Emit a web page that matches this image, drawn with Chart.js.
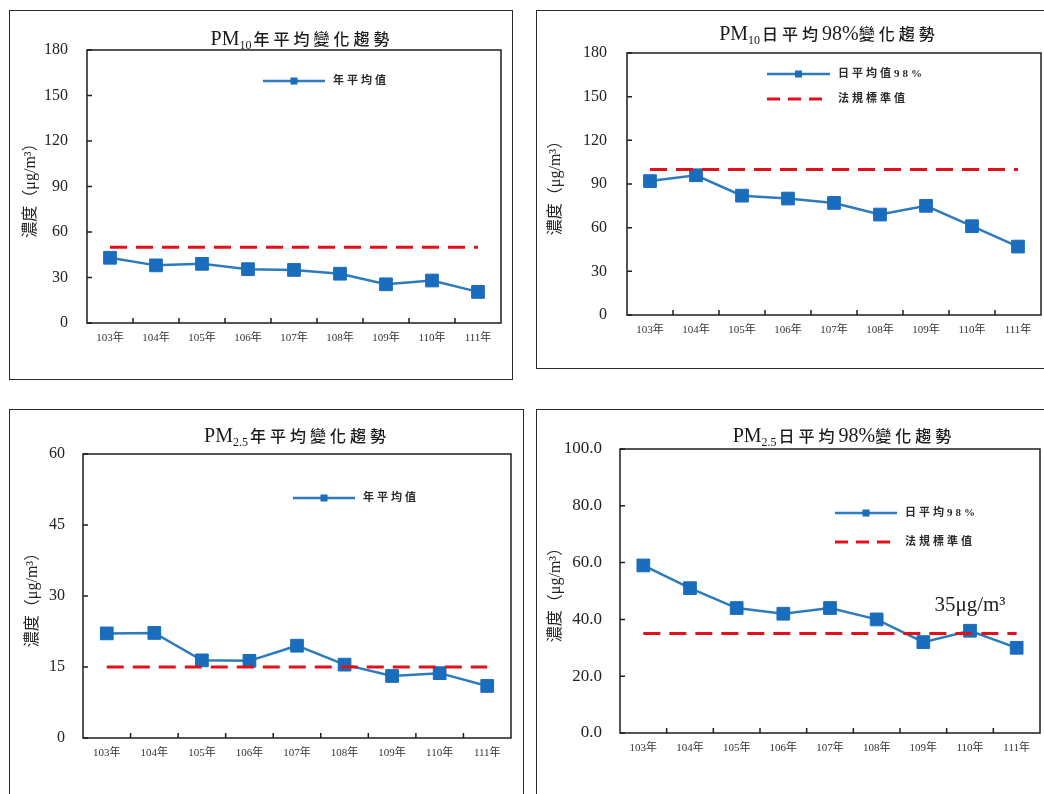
<!DOCTYPE html>
<html lang="zh-Hant">
<head>
<meta charset="utf-8">
<script src="https://cdn.jsdelivr.net/npm/chart.js@4.4.0/dist/chart.umd.min.js"></script>
<style>
  html, body { margin: 0; padding: 0; background: #fff; width: 1044px; height: 794px; overflow: hidden; }
  canvas { position: absolute; }
  .frame { position: absolute; border: 1.5px solid #2a2a2a; box-sizing: border-box; pointer-events: none; }
  .ttl { position: absolute; white-space: nowrap; transform: translateX(-50%); line-height: 24px;
         color: #1a1a1a; font-family: "Noto Sans CJK TC", sans-serif; font-size: 16px; font-weight: 500; letter-spacing: 4px; }
  .ttl .lat { font-family: "Liberation Serif", serif; font-size: 20px; letter-spacing: 0; }
  .ttl sub { font-size: 12px; vertical-align: -4px; margin-right: 2px; }
</style>
</head>
<body>
<div class="frame" style="left:9px;top:10px;width:504px;height:370px"></div>
<div class="frame" style="left:536px;top:10px;width:520px;height:359px"></div>
<div class="frame" style="left:9px;top:409px;width:515px;height:400px"></div>
<div class="frame" style="left:536px;top:409px;width:520px;height:400px"></div>

<canvas id="c1" width="504" height="370" style="left:9px;top:10px"></canvas>
<canvas id="c2" width="515" height="359" style="left:536px;top:10px"></canvas>
<canvas id="c3" width="515" height="385" style="left:9px;top:409px"></canvas>
<canvas id="c4" width="515" height="385" style="left:536px;top:409px"></canvas>

<div class="ttl" style="left:302px;top:26px"><span class="lat">PM<sub>10</sub></span>年平均變化趨勢</div>
<div class="ttl" style="left:829px;top:21px"><span class="lat">PM<sub>10</sub></span>日平均<span class="lat">98%</span>變化趨勢</div>
<div class="ttl" style="left:297px;top:423px"><span class="lat">PM<sub>2.5</sub></span>年平均變化趨勢</div>
<div class="ttl" style="left:844px;top:423px"><span class="lat">PM<sub>2.5</sub></span>日平均<span class="lat">98%</span>變化趨勢</div>

<script>
const years = ['103年', '104年', '105年', '106年', '107年', '108年', '109年', '110年', '111年'];

const pm10Year = [43, 38, 39, 35.5, 35, 32.5, 25.5, 28, 20.5];
const pm10YearLimit = [50, 50, 50, 50, 50, 50, 50, 50, 50];

const pm10Day98 = [92, 96, 82, 80, 77, 69, 75, 61, 47];
const pm10DayLimit = [100, 100, 100, 100, 100, 100, 100, 100, 100];

const pm25Year = [22.1, 22.2, 16.4, 16.3, 19.5, 15.5, 13.1, 13.7, 11];
const pm25YearLimit = [15, 15, 15, 15, 15, 15, 15, 15, 15];

const pm25Day98 = [59, 51, 44, 42, 44, 40, 32, 36, 30];
const pm25DayLimit = [35, 35, 35, 35, 35, 35, 35, 35, 35];

const BLUE = '#2b7bbd';
const MARK = '#1a6dbd';
const RED = '#e3101c';
const CJK = '"Liberation Serif", "Noto Sans CJK TC", serif';

// 畫框線和朝內的刻度
const frameTicks = {
  id: 'frameTicks',
  beforeDatasetsDraw(chart) {
    const {ctx, chartArea: a, scales: {x, y}} = chart;
    ctx.save();
    ctx.strokeStyle = '#1e1e1e';
    ctx.lineWidth = 1.5;
    ctx.strokeRect(a.left, a.top, a.right - a.left, a.bottom - a.top);
    ctx.beginPath();
    y.ticks.forEach(t => {
      const py = y.getPixelForValue(t.value);
      ctx.moveTo(a.left, py);
      ctx.lineTo(a.left + 5, py);
    });
    for (let i = 0; i < years.length - 1; i++) {
      const px = (x.getPixelForValue(i) + x.getPixelForValue(i + 1)) / 2;
      ctx.moveTo(px, a.bottom);
      ctx.lineTo(px, a.bottom - 5);
    }
    ctx.stroke();
    ctx.restore();
  }
};

// 圖例放在繪圖區裡面
const boxLegend = {
  id: 'boxLegend',
  afterDraw(chart, args, opts) {
    if (!opts.rows) return;
    const {ctx} = chart;
    opts.rows.forEach(r => {
      const ds = chart.data.datasets[r.ds];
      ctx.save();
      ctx.strokeStyle = ds.borderColor;
      ctx.lineWidth = ds.borderWidth;
      ctx.setLineDash(ds.borderDash ? [13, 8] : []);
      ctx.beginPath();
      ctx.moveTo(opts.x, r.y);
      ctx.lineTo(opts.x + opts.len, r.y);
      ctx.stroke();
      ctx.setLineDash([]);
      if (ds.pointRadius) {
        ctx.fillStyle = MARK;
        ctx.fillRect(opts.x + opts.len / 2 - 3.5, r.y - 3.5, 7, 7);
      }
      ctx.fillStyle = '#2a2a2a';
      ctx.font = '600 11px ' + CJK;
      ctx.letterSpacing = '3px';
      ctx.textBaseline = 'middle';
      ctx.fillText(ds.label, opts.x + opts.len + 8, r.y);
      ctx.restore();
    });
  }
};

// 標準值的文字標註
const note = {
  id: 'note',
  afterDraw(chart, args, opts) {
    if (!opts.text) return;
    const {ctx, scales: {x, y}} = chart;
    ctx.save();
    ctx.fillStyle = '#222';
    ctx.font = '21px "Liberation Serif", serif';
    ctx.textAlign = 'center';
    ctx.textBaseline = 'middle';
    ctx.fillText(opts.text, x.getPixelForValue(opts.index), y.getPixelForValue(opts.value) + opts.dy);
    ctx.restore();
  }
};

function seriesSet(label, data) {
  return {
    label, data,
    borderColor: BLUE, borderWidth: 2.5,
    pointStyle: 'rect', pointRadius: 9, pointBorderWidth: 1,
    pointBackgroundColor: MARK, pointBorderColor: MARK,
    tension: 0
  };
}

function limitSet(label, data) {
  return {label, data, borderColor: RED, borderWidth: 3, borderDash: [17, 9], pointRadius: 0, fill: false};
}

function makeChart(id, cfg) {
  return new Chart(document.getElementById(id), {
    type: 'line',
    data: {labels: years, datasets: cfg.datasets},
    plugins: [frameTicks, boxLegend, note],
    options: {
      responsive: false,
      animation: false,
      layout: {padding: cfg.pad},
      plugins: {
        legend: {display: false},
        tooltip: {enabled: false},
        boxLegend: cfg.legend,
        note: cfg.note || {}
      },
      scales: {
        x: {
          offset: true,
          grid: {display: false, drawTicks: false},
          border: {display: false},
          ticks: {color: '#333', font: {family: CJK, size: 11}, padding: 9, maxRotation: 0, autoSkip: false},
          afterFit(s) { s.height = 30; }
        },
        y: {
          min: 0,
          max: cfg.max,
          grid: {display: false, drawTicks: false},
          border: {display: false},
          ticks: {
            stepSize: cfg.step,
            color: '#222',
            font: {family: '"Liberation Serif", serif', size: cfg.tickSize || 16},
            padding: cfg.tickPad,
            callback: cfg.fmt || (v => v)
          },
          title: {
            display: true,
            text: '濃度（μg/m³）',
            color: '#222',
            font: {family: CJK, size: 16},
            padding: {top: cfg.titlePad, bottom: 0}
          },
          afterFit(s) { s.width = cfg.yw; }
        }
      }
    }
  });
}

makeChart('c1', {
  datasets: [limitSet('法規標準值', pm10YearLimit), seriesSet('年平均值', pm10Year)],
  pad: {left: 0, top: 40, right: 12, bottom: 27},
  yw: 78, max: 180, step: 30, tickPad: 19, titlePad: 12,
  legend: {x: 254, len: 62, rows: [{ds: 1, y: 71}]}
});

makeChart('c2', {
  datasets: [limitSet('法規標準值', pm10DayLimit), seriesSet('日平均值98%', pm10Day98)],
  pad: {left: 0, top: 43, right: 10, bottom: 24},
  yw: 91, max: 180, step: 30, tickPad: 20, titlePad: 10,
  legend: {x: 231, len: 63, rows: [{ds: 1, y: 64}, {ds: 0, y: 89}]}
});

makeChart('c3', {
  datasets: [limitSet('法規標準值', pm25YearLimit), seriesSet('年平均值', pm25Year)],
  pad: {left: 0, top: 45, right: 13, bottom: 26},
  yw: 74, max: 60, step: 15, tickPad: 18, titlePad: 14,
  legend: {x: 284, len: 62, rows: [{ds: 1, y: 89}]}
});

makeChart('c4', {
  datasets: [limitSet('法規標準值', pm25DayLimit), seriesSet('日平均98%', pm25Day98)],
  pad: {left: 0, top: 40, right: 11, bottom: 31},
  yw: 84, max: 100, step: 20, tickPad: 18, titlePad: 10, tickSize: 17,
  fmt: v => v.toFixed(1),
  legend: {x: 299, len: 62, rows: [{ds: 1, y: 104}, {ds: 0, y: 133}]},
  note: {text: '35μg/m³', index: 7, value: 35, dy: -28}
});
</script>
</body>
</html>
